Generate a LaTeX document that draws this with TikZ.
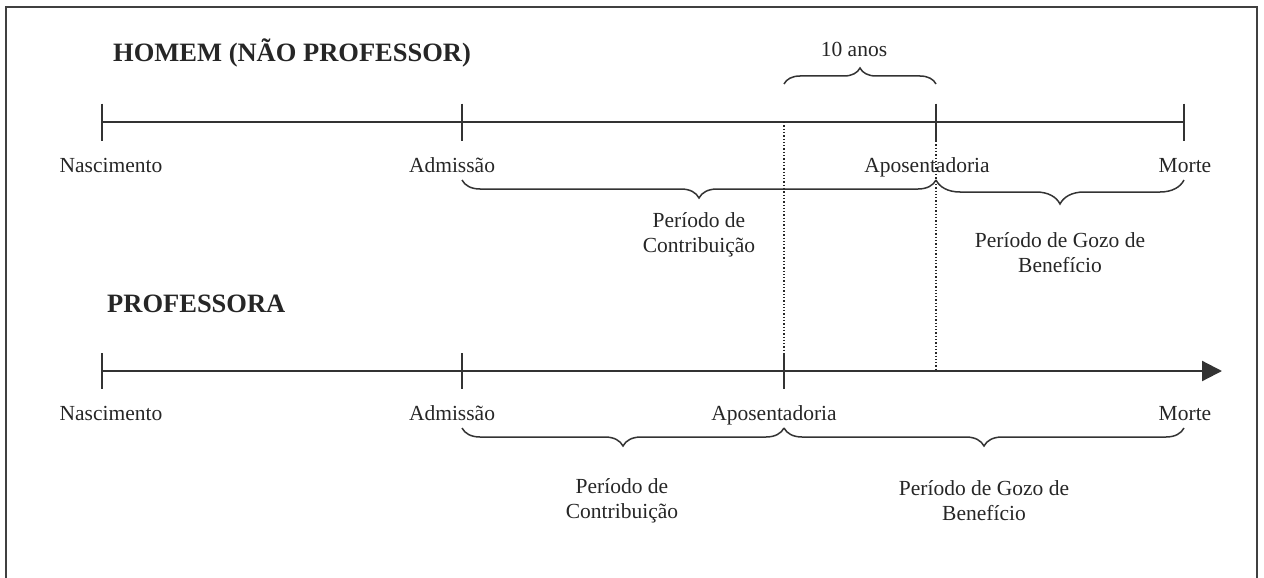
\documentclass[tikz,border=0pt]{standalone}
\usepackage{fontspec}
\setmainfont{Liberation Serif}
\usetikzlibrary{arrows.meta,decorations.pathreplacing}

\begin{document}
\begin{tikzpicture}[x=1pt,y=-1pt,
  line/.style={draw=black!80,line width=2.2pt},
  tick/.style={draw=black!80,line width=2.2pt},
  brc/.style={draw=black!80,line width=1.5pt,decorate,decoration={brace,amplitude=#1}},
  brc/.default=18,
  dots/.style={draw=black!85,line width=1.3pt,dash pattern=on 1.3pt off 2pt},
  lbl/.style={text=black!85,font=\fontsize{21.5}{25}\selectfont,anchor=base,inner sep=0pt},
  txt/.style={text=black!85,font=\fontsize{21.5}{25}\selectfont,align=center,inner sep=0pt},
  ttl/.style={text=black!85,font=\fontsize{26.5}{30}\selectfont\bfseries,anchor=base west,inner sep=0pt}]
\useasboundingbox (0,0) rectangle (1264,578);
\draw[draw=black!75,line width=2pt] (6,578) |- (1257,7) -- (1257,578);
\coordinate (hbirth) at (102,122);
\coordinate (hadm) at (462,122);
\coordinate (hcut) at (784,122);
\coordinate (hret) at (936,122);
\coordinate (hdeath) at (1184,122);
\coordinate (pbirth) at (102,371);
\coordinate (padm) at (462,371);
\coordinate (pret) at (784,371);
\coordinate (pcut) at (936,371);
\coordinate (pdeath) at (1184,371);
\coordinate (pend) at (1222,371);
\node[ttl] (htitle) at (113,62) {HOMEM (NÃO PROFESSOR)};
\node[ttl] (ptitle) at (107,312) {PROFESSORA};
\draw[line] (hbirth) -- (hdeath);
\draw[line,-{Triangle[length=20pt,width=20pt]}] (pbirth) -- (pend);
\foreach \c in {hbirth,hadm,hret,hdeath}
  \draw[tick] ([yshift=18.5]\c) -- ([yshift=-18.5]\c);
\foreach \c in {pbirth,padm,pret}
  \draw[tick] ([yshift=18]\c) -- ([yshift=-18]\c);
\draw[dots] (hcut) -- ([yshift=19]pret);
\draw[dots] ([yshift=-19]hret) -- ([yshift=2]pcut);
\node[lbl] (dez) at (854,57) {10 anos};
\draw[brc=16] ([yshift=38]hcut) -- ([yshift=38]hret);
\node[lbl] (hbirthlbl) at (111,172) {Nascimento};
\node[lbl] (hadmlbl) at (452,172) {Admissão};
\node[lbl] (hretlbl) at (927,172) {Aposentadoria};
\node[lbl] (hdeathlbl) at (1185,172) {Morte};
\node[lbl] (pbirthlbl) at (111,420) {Nascimento};
\node[lbl] (padmlbl) at (452,420) {Admissão};
\node[lbl] (pretlbl) at (774,420) {Aposentadoria};
\node[lbl] (pdeathlbl) at (1185,420) {Morte};
\draw[brc] ([yshift=-58]hret) -- ([yshift=-58]hadm);
\draw[brc=24] ([yshift=-58]hdeath) -- ([yshift=-58]hret);
\draw[brc] ([yshift=-57]pret) -- ([yshift=-57]padm);
\draw[brc] ([yshift=-57]pdeath) -- ([yshift=-57]pret);
\node[txt] (hcontr) at (699,235) {Período de\\Contribuição};
\node[txt] (hgozo) at (1060,253) {Período de Gozo de\\Benefício};
\node[txt] (pcontr) at (622,501) {Período de\\Contribuição};
\node[txt] (pgozo) at (984,501) {Período de Gozo de\\Benefício};
\end{tikzpicture}
\end{document}
